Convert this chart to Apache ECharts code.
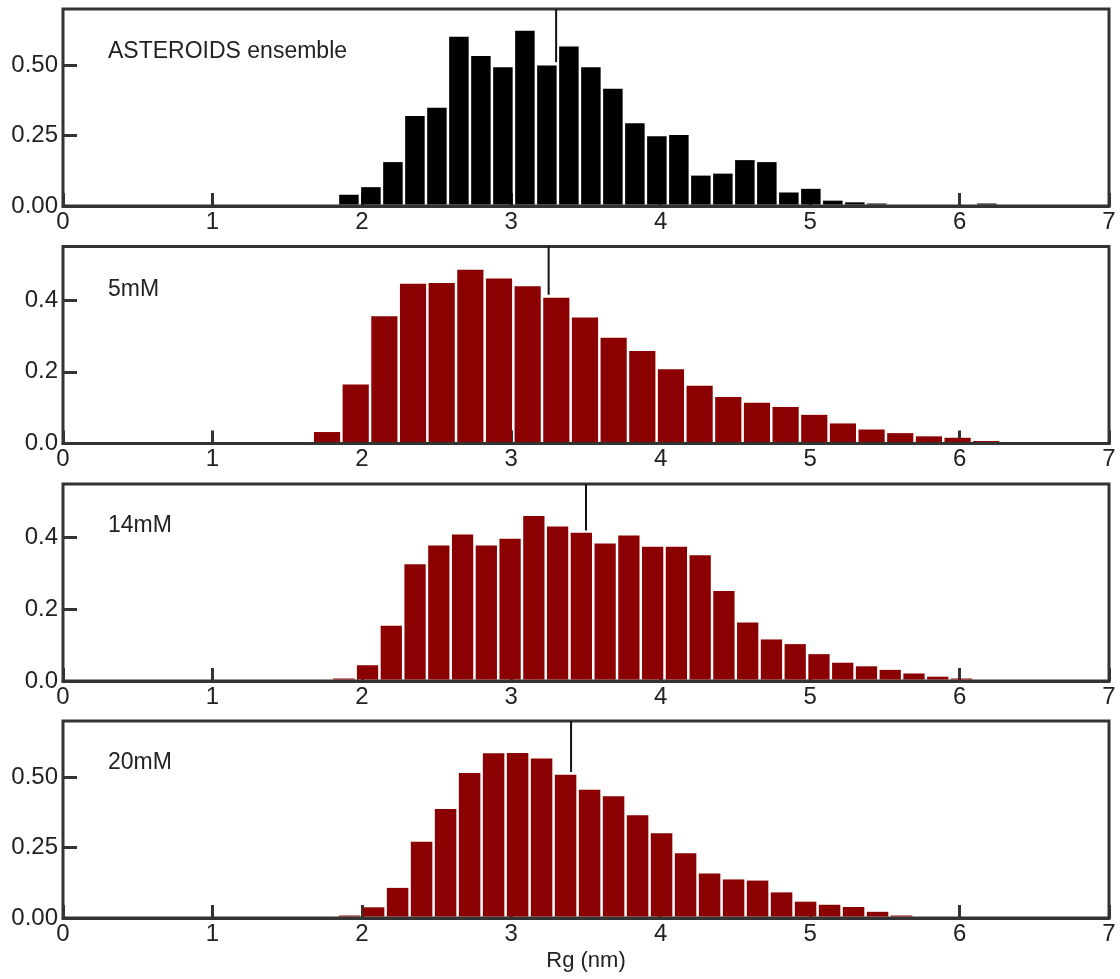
<!DOCTYPE html>
<html>
<head>
<meta charset="utf-8">
<script src="https://cdn.jsdelivr.net/npm/echarts@6/dist/echarts.min.js"></script>
<style>
html,body{margin:0;padding:0;background:#fff;}
#chart{width:1120px;height:979px;}
</style>
</head>
<body>
<div id="chart"></div>
<script>
// ---- data ----
const panelLabels = ['ASTEROIDS ensemble', '5mM', '14mM', '20mM'];
const panelColors = ['#000000', '#8b0000', '#8b0000', '#8b0000'];

// histogram bins: first bin centre and bin width (nm)
const binStart = [1.9135, 1.767, 1.879, 1.918];
const binWidth = [0.1472, 0.1918, 0.1590, 0.1606];

const valsAsteroids = [0.040, 0.067, 0.156, 0.320, 0.349, 0.601, 0.533, 0.493, 0.623, 0.499,
  0.567, 0.493, 0.417, 0.294, 0.248, 0.252, 0.108, 0.115, 0.163, 0.156,
  0.048, 0.061, 0.019, 0.013, 0.006, 0, 0, 0, 0, 0.006];
const vals5mM = [0.032, 0.165, 0.355, 0.446, 0.448, 0.485, 0.461, 0.439, 0.407, 0.352,
  0.295, 0.258, 0.207, 0.161, 0.130, 0.114, 0.102, 0.080, 0.056, 0.039,
  0.029, 0.020, 0.016, 0.006];
const vals14mM = [0.005, 0.044, 0.154, 0.326, 0.378, 0.409, 0.378, 0.397, 0.461, 0.431,
  0.414, 0.384, 0.406, 0.375, 0.375, 0.351, 0.251, 0.163, 0.116, 0.103,
  0.075, 0.051, 0.041, 0.031, 0.021, 0.012, 0.006];
const vals20mM = [0.007, 0.038, 0.107, 0.271, 0.387, 0.515, 0.585, 0.586, 0.567, 0.509,
  0.456, 0.433, 0.365, 0.301, 0.230, 0.158, 0.137, 0.133, 0.091, 0.058,
  0.047, 0.039, 0.022, 0.007];
const panelValues = [valsAsteroids, vals5mM, vals14mM, vals20mM];

// mean Rg markers (x position, lower end of marker)
const meanX = [3.30, 3.25, 3.50, 3.40];
const meanLow = [0.511, 0.415, 0.420, 0.519];

// axes
const yMax = [0.70, 0.55, 0.55, 0.70];
const yTicks = [[0, 0.25, 0.5], [0, 0.2, 0.4], [0, 0.2, 0.4], [0, 0.25, 0.5]];
const yDecimals = [2, 1, 1, 2];
const xTicks = [0, 1, 2, 3, 4, 5, 6, 7];
const xName = 'Rg (nm)';

// ---- layout ----
const gridTops = [9, 246.5, 484, 721];
const gridH = 197;
const FONT = 'Liberation Sans, Arial, Helvetica, sans-serif';
const DARK = '#333333';

const grids = [], xAxes = [], yAxes = [], series = [], titles = [];
for (let i = 0; i < 4; i++) {
  grids.push({left: 63, right: 11, top: gridTops[i], height: gridH, show: true,
    borderColor: DARK, borderWidth: 3, backgroundColor: 'transparent', containLabel: false});
  xAxes.push({type: 'value', gridIndex: i, min: 0, max: 7, interval: 1,
    name: i === 3 ? xName : '', nameLocation: 'middle', nameGap: 32,
    nameTextStyle: {fontSize: 22, fontFamily: FONT, color: '#222'},
    axisLine: {show: true, lineStyle: {color: DARK, width: 3}},
    axisTick: {show: true, inside: true, length: 13, lineStyle: {color: DARK, width: 3}, customValues: xTicks},
    axisLabel: {fontSize: 24, fontFamily: FONT, color: '#222', margin: 4,
      showMinLabel: true, showMaxLabel: true, customValues: xTicks},
    splitLine: {show: false}});
  const dec = yDecimals[i];
  yAxes.push({type: 'value', gridIndex: i, min: 0, max: yMax[i],
    axisLine: {show: false},
    axisTick: {show: true, inside: true, length: 14, lineStyle: {color: DARK, width: 3}, customValues: yTicks[i]},
    axisLabel: {fontSize: 24, fontFamily: FONT, color: '#222', margin: 5,
      customValues: yTicks[i], formatter: v => Number(v).toFixed(dec)},
    splitLine: {show: false}});
  const w = binWidth[i];
  const color = panelColors[i];
  const data = panelValues[i].map((v, k) => [binStart[i] + k * w, v]);
  series.push({type: 'custom', xAxisIndex: i, yAxisIndex: i, data: data, z: 2,
    renderItem: function (params, api) {
      const c = api.value(0), v = api.value(1);
      if (!(v > 0)) return null;
      const p0 = api.coord([c - w / 2, 0]);
      const p1 = api.coord([c + w / 2, v]);
      const gap = 1.25;
      const bottom = p0[1] - 1.5;
      const h = Math.max(bottom - p1[1], 1);
      return {type: 'rect',
        shape: {x: p0[0] + gap, y: bottom - h, width: p1[0] - p0[0] - 2 * gap, height: h},
        style: {fill: color}};
    }});
  series.push({type: 'line', xAxisIndex: i, yAxisIndex: i, symbol: 'none', z: 5,
    data: [[meanX[i], yMax[i]], [meanX[i], meanLow[i]]],
    lineStyle: {color: '#111', width: 2}});
  titles.push({text: panelLabels[i], left: 108, top: gridTops[i] + [31, 32, 30.5, 30.5][i],
    padding: 0, textStyle: {fontSize: 23, fontWeight: 'normal', fontFamily: FONT, color: '#222'}});
}

const chart = echarts.init(document.getElementById('chart'), null, {renderer: 'canvas'});
chart.setOption({animation: false, backgroundColor: '#fff', title: titles,
  grid: grids, xAxis: xAxes, yAxis: yAxes, series: series});
</script>
</body>
</html>
